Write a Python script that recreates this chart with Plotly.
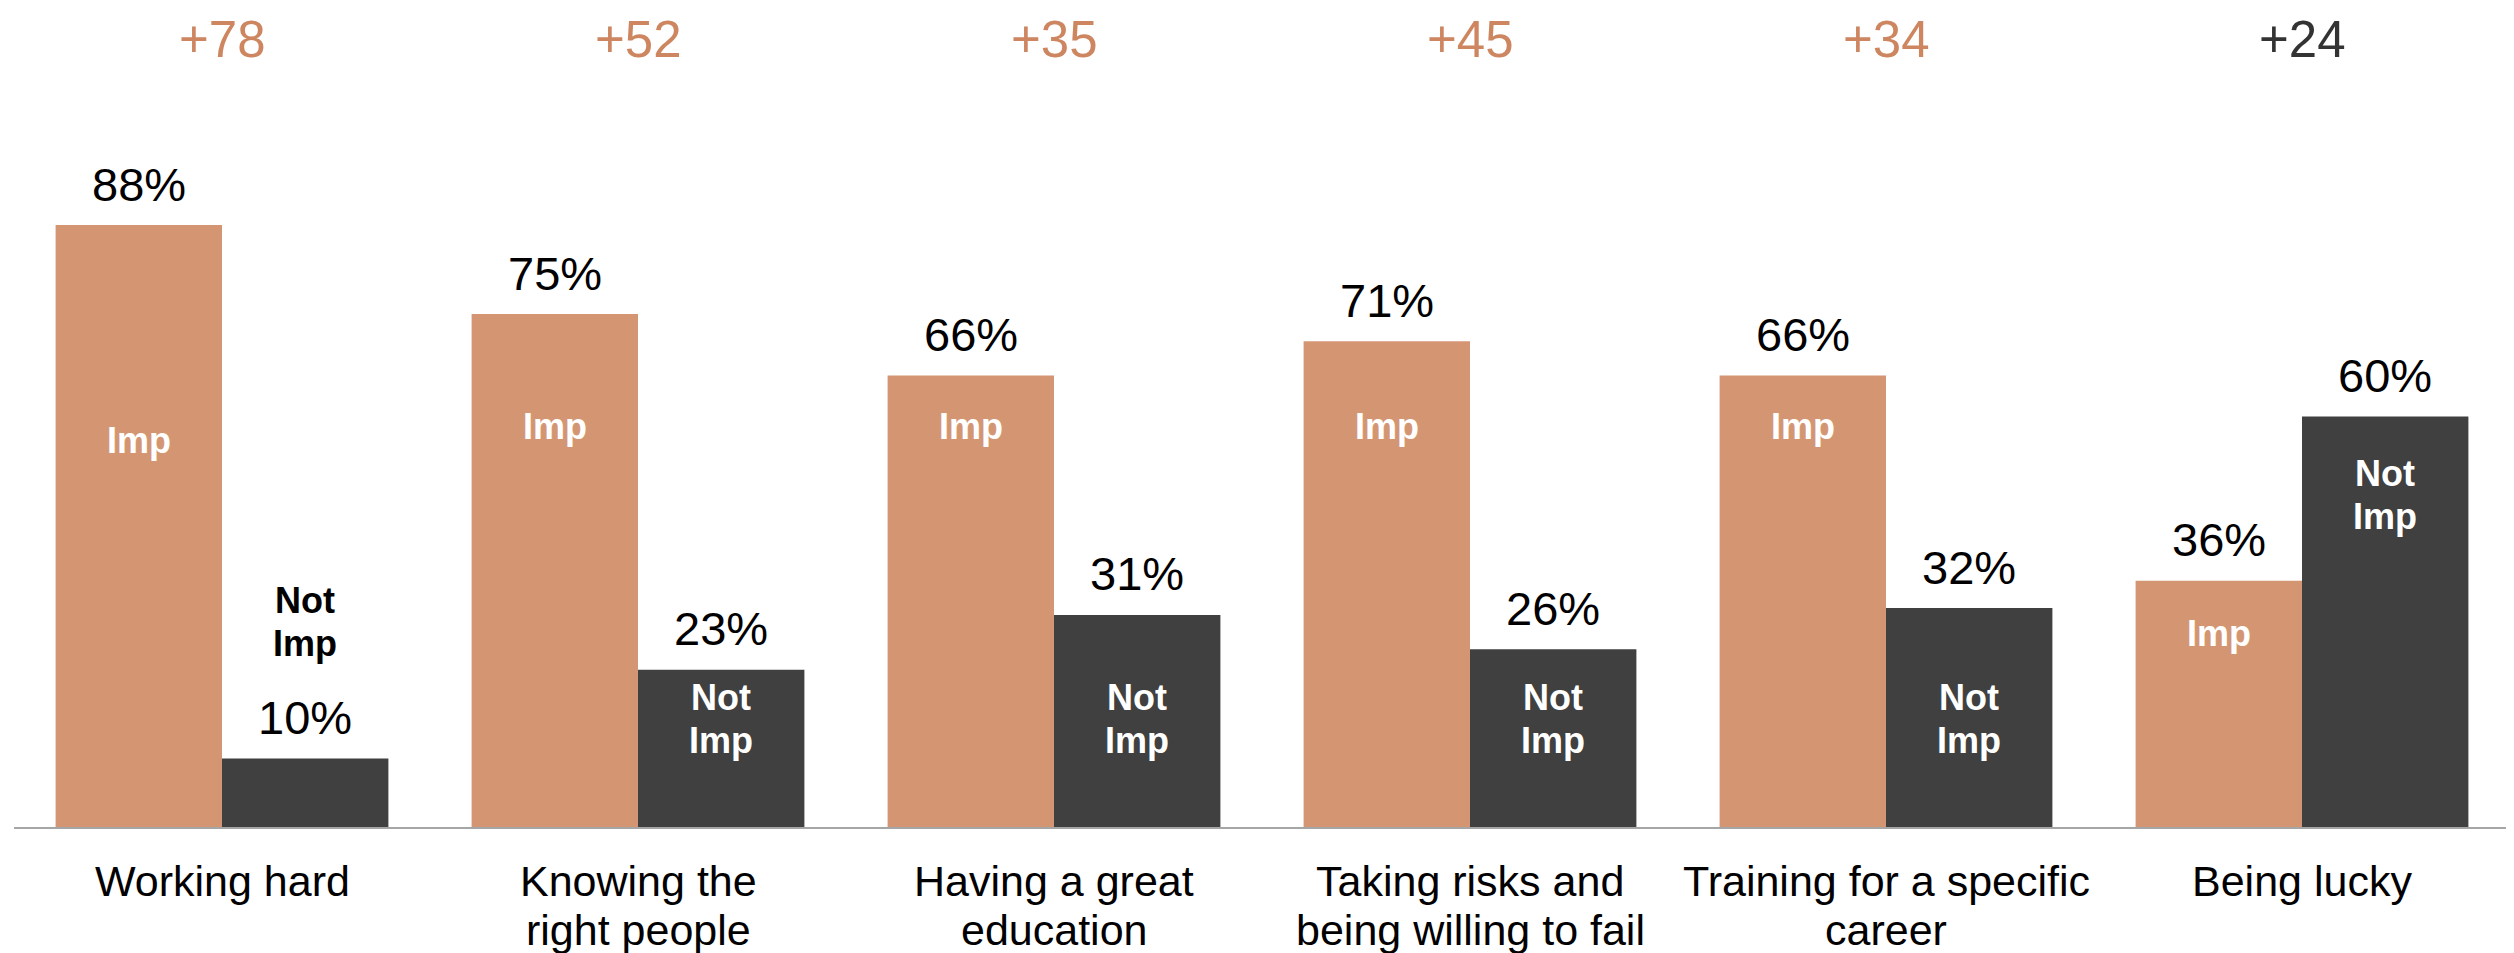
import plotly.graph_objects as go

# ---- data ----
categories = [
    ["Working hard"],
    ["Knowing the", "right people"],
    ["Having a great", "education"],
    ["Taking risks and", "being willing to fail"],
    ["Training for a specific", "career"],
    ["Being lucky"],
]
important = [88, 75, 66, 71, 66, 36]
not_important = [10, 23, 31, 26, 32, 60]
net_labels = ["+78", "+52", "+35", "+45", "+34", "+24"]

# ---- layout / style ----
IMP_COLOR = "#D49672"
NOT_COLOR = "#404040"
NET_COLORS = ["#CD8660"] * 5 + ["#333333"]
FONT = "Liberation Sans, Arial, sans-serif"
PAGE_OFF = 8           # body margin of the html page
W, H = 2514 - PAGE_OFF, 953 - PAGE_OFF
BASE_PX = 827          # screen pixel row of the baseline
PX_PER_UNIT = 6.84
PLOT_H = BASE_PX - PAGE_OFF
YMAX = PLOT_H / PX_PER_UNIT

def py(px):
    """screen pixel row -> data units"""
    return (BASE_PX - px) / PX_PER_UNIT

# label positions (screen pixel rows of text centres)
imp_label_px = [440, 426, 426, 426, 426, 633]
not_label_px = [622, 719, 719, 719, 719, 495]
not_label_color = ["#000000", "white", "white", "white", "white", "white"]
net_label_px = 39

x = list(range(len(important)))

fig = go.Figure()
fig.add_trace(go.Bar(x=x, y=important, marker_color=IMP_COLOR, marker_line_width=0,
                     name="Imp", hoverinfo="skip"))
fig.add_trace(go.Bar(x=x, y=not_important, marker_color=NOT_COLOR, marker_line_width=0,
                     name="Not Imp", hoverinfo="skip"))

ann = []
for i in x:
    xi, xn = i - 0.2, i + 0.2
    ann.append(dict(x=xi, y=important[i], yshift=41, text=f"{important[i]}%",
                    font=dict(size=47, color="#000000", family=FONT)))
    ann.append(dict(x=xn, y=not_important[i], yshift=41, text=f"{not_important[i]}%",
                    font=dict(size=47, color="#000000", family=FONT)))
    ann.append(dict(x=xi, y=py(imp_label_px[i]), text="<b>Imp</b>",
                    font=dict(size=36, color="white", family=FONT)))
    ann.append(dict(x=xn, y=py(not_label_px[i] - 21.5), text="<b>Not</b>",
                    font=dict(size=36, color=not_label_color[i], family=FONT)))
    ann.append(dict(x=xn, y=py(not_label_px[i] + 21.5), text="<b>Imp</b>",
                    font=dict(size=36, color=not_label_color[i], family=FONT)))
    ann.append(dict(x=i, y=py(net_label_px), text=net_labels[i],
                    font=dict(size=51, color=NET_COLORS[i], family=FONT)))
for a in ann:
    a.update(xref="x", yref="y", showarrow=False, xanchor="center", yanchor="middle")

# category labels below the axis (paper coords, since outside the y range)
for i in x:
    for j, line in enumerate(categories[i]):
        ann.append(dict(x=i, y=py(881 + 49 * j) / YMAX, xref="x", yref="paper",
                        text=line, showarrow=False, xanchor="center", yanchor="middle",
                        font=dict(size=43, color="#000000", family=FONT)))

fig.update_layout(
    width=W, height=H,
    margin=dict(l=14 - PAGE_OFF, r=4, t=0, b=H - PLOT_H),
    paper_bgcolor="white", plot_bgcolor="white",
    barmode="group", bargap=0.2, bargroupgap=0,
    showlegend=False,
    annotations=ann,
    xaxis=dict(range=[-0.5, 5.5], showticklabels=False, ticks="", showgrid=False,
               zeroline=False, showline=True, linecolor="#A6A6A6", linewidth=2),
    yaxis=dict(range=[0, YMAX], visible=False, showgrid=False, zeroline=False),
)

fig.write_html("out.html")
